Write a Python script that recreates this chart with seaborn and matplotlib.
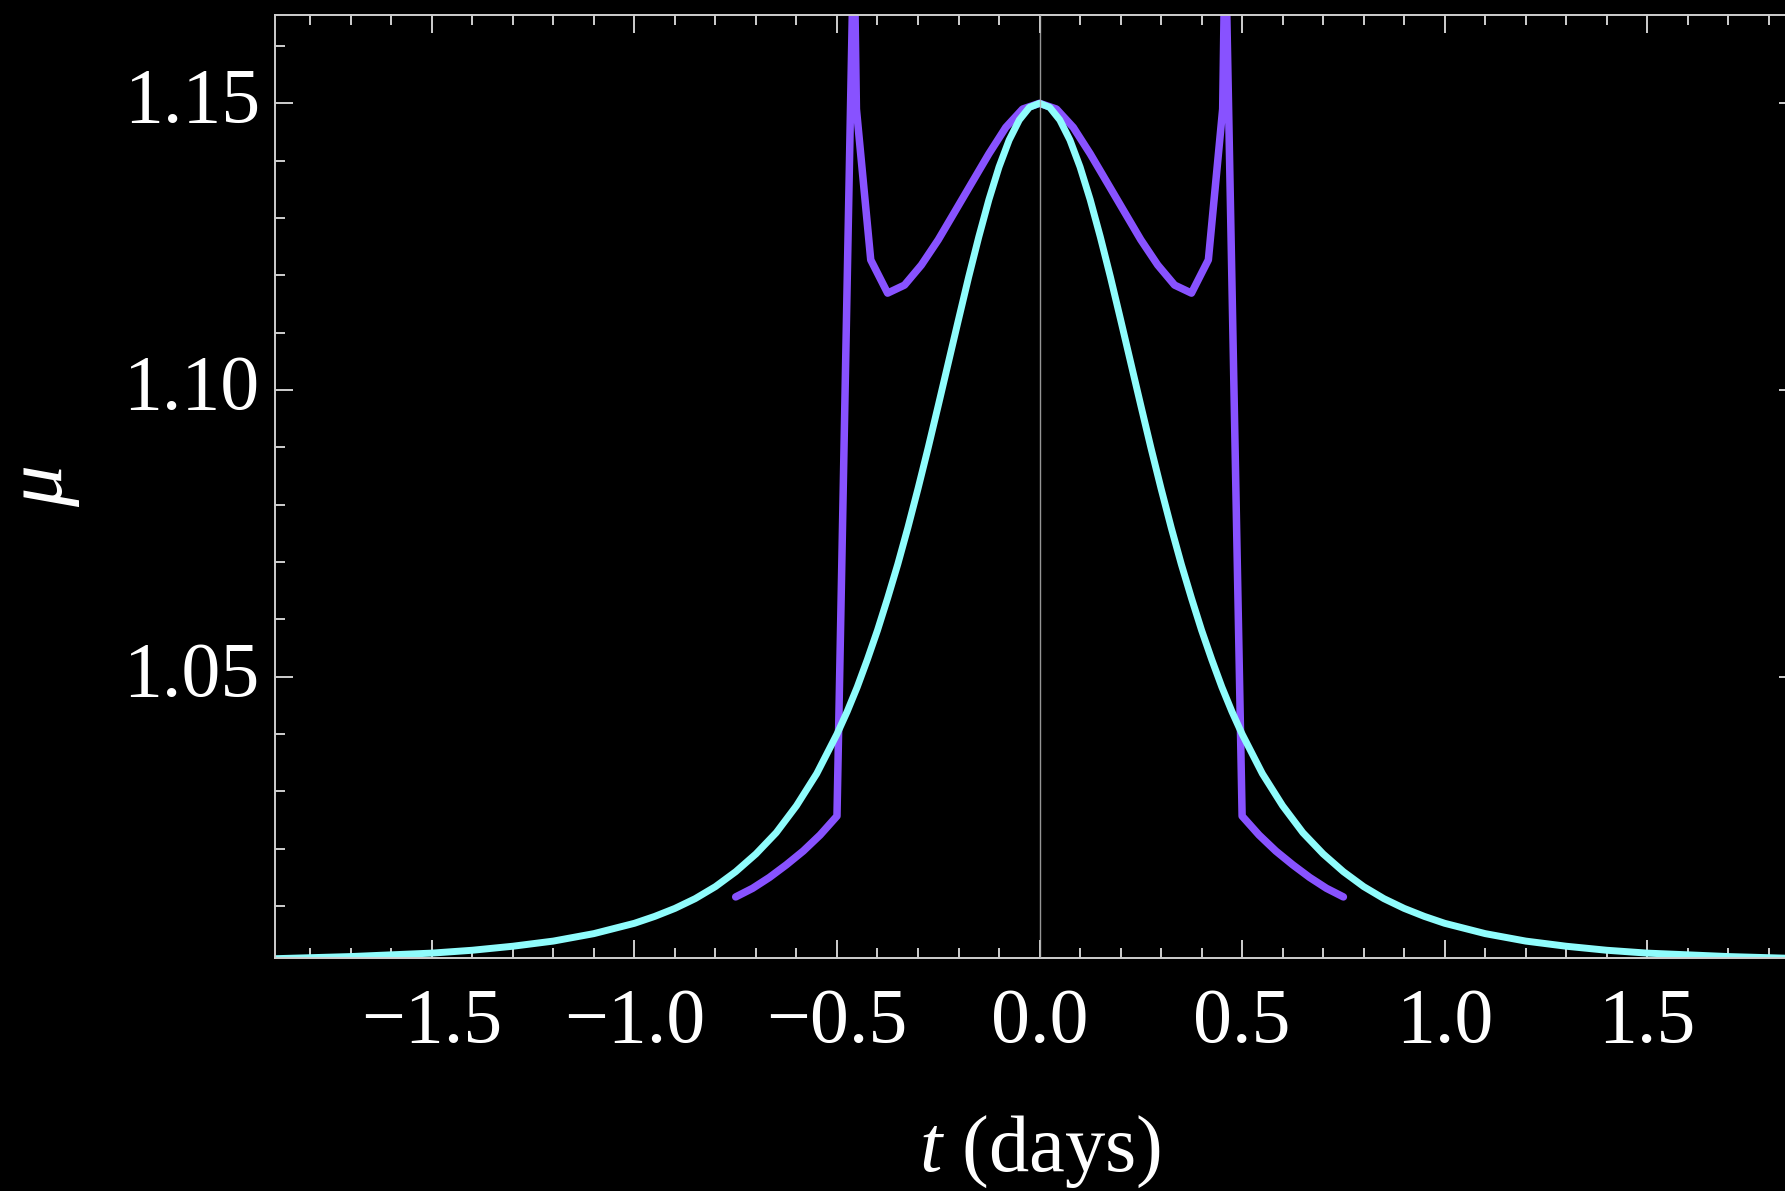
import matplotlib
matplotlib.use("Agg")
import matplotlib.pyplot as plt
import pandas as pd
import seaborn as sns
from matplotlib.ticker import MultipleLocator, FuncFormatter

# smooth curve (cyan)
t_cyan = [-1.9, -1.8, -1.7, -1.6, -1.5, -1.4, -1.3, -1.2, -1.1, -1.0,
          -0.95, -0.9, -0.85, -0.8, -0.75, -0.7, -0.65, -0.6, -0.55, -0.5,
          -0.475, -0.45, -0.425, -0.4, -0.375, -0.35, -0.325, -0.3, -0.275, -0.25,
          -0.225, -0.2, -0.175, -0.15, -0.125, -0.1, -0.075, -0.05, -0.025, 0.0,
          0.025, 0.05, 0.075, 0.1, 0.125, 0.15, 0.175, 0.2, 0.225, 0.25,
          0.275, 0.3, 0.325, 0.35, 0.375, 0.4, 0.425, 0.45, 0.475, 0.5,
          0.55, 0.6, 0.65, 0.7, 0.75, 0.8, 0.85, 0.9, 0.95, 1.0,
          1.1, 1.2, 1.3, 1.4, 1.5, 1.6, 1.7, 1.8, 1.9]
mu_cyan = [1.0008, 1.0010, 1.0012, 1.0015, 1.0018, 1.0023, 1.0030, 1.0039, 1.0052, 1.0070,
           1.0082, 1.0096, 1.0113, 1.0134, 1.0160, 1.0191, 1.0228, 1.0275, 1.0331, 1.0400,
           1.0439, 1.0482, 1.0530, 1.0581, 1.0637, 1.0696, 1.0760, 1.0828, 1.0899, 1.0973,
           1.1048, 1.1123, 1.1197, 1.1267, 1.1332, 1.1389, 1.1436, 1.1471, 1.1493, 1.1500,
           1.1493, 1.1471, 1.1436, 1.1389, 1.1332, 1.1267, 1.1197, 1.1123, 1.1048, 1.0973,
           1.0899, 1.0828, 1.0760, 1.0696, 1.0637, 1.0581, 1.0530, 1.0482, 1.0439, 1.0400,
           1.0331, 1.0275, 1.0228, 1.0191, 1.0160, 1.0134, 1.0113, 1.0096, 1.0082, 1.0070,
           1.0052, 1.0039, 1.0030, 1.0023, 1.0018, 1.0015, 1.0012, 1.0010, 1.0008]

# sampled curve (purple) with the two spikes near t = +-0.46
t_purple = [-0.75, -0.7083, -0.6667, -0.625, -0.5833, -0.5417, -0.5, -0.4583, -0.452,
            -0.4167, -0.375, -0.3333, -0.2917, -0.25, -0.2083, -0.1667, -0.125, -0.0833, -0.0417,
            0.0,
            0.0417, 0.0833, 0.125, 0.1667, 0.2083, 0.25, 0.2917, 0.3333, 0.375, 0.4167,
            0.452, 0.4583, 0.5, 0.5417, 0.5833, 0.625, 0.6667, 0.7083, 0.75]
mu_purple = [1.0116, 1.0131, 1.0150, 1.0172, 1.0196, 1.0224, 1.0257, 1.1800, 1.1490,
             1.1227, 1.1169, 1.1183, 1.1218, 1.1262, 1.1312, 1.1362, 1.1412, 1.1458, 1.1490,
             1.1500,
             1.1490, 1.1458, 1.1412, 1.1362, 1.1312, 1.1262, 1.1218, 1.1183, 1.1169, 1.1227,
             1.1490, 1.1800, 1.0257, 1.0224, 1.0196, 1.0172, 1.0150, 1.0131, 1.0116]

sns.set_theme(style="ticks", rc={
    "figure.facecolor": "black", "axes.facecolor": "black", "savefig.facecolor": "black",
    "axes.edgecolor": "#cfcfcf", "axes.linewidth": 1.4,
    "xtick.color": "#cfcfcf", "ytick.color": "#cfcfcf",
    "xtick.labelcolor": "white", "ytick.labelcolor": "white", "axes.labelcolor": "white",
})
plt.rcParams["font.family"] = ["Liberation Serif", "DejaVu Serif"]
plt.rcParams["mathtext.fontset"] = "custom"
plt.rcParams["mathtext.rm"] = "Liberation Serif"
plt.rcParams["mathtext.it"] = "Liberation Serif:italic"


def minus_fmt(digits):
    def f(v, pos):
        if abs(v) < 1e-9:
            v = 0.0
        return f"{v:.{digits}f}".replace("-", "\u2212")
    return FuncFormatter(f)


fig = plt.figure(figsize=(17.85, 11.91), dpi=100)
ax = fig.add_axes([0.1541, 0.1954, 0.8527, 0.7920])

purple = pd.DataFrame({"t": t_purple, "mu": mu_purple})
cyan = pd.DataFrame({"t": t_cyan, "mu": mu_cyan})
sns.lineplot(data=purple, x="t", y="mu", color="#8852ff", linewidth=5.4,
             estimator=None, sort=False, ax=ax)
sns.lineplot(data=cyan, x="t", y="mu", color="#8ffcfc", linewidth=5.0,
             estimator=None, sort=False, ax=ax)
ax.axvline(0, color="#b0b0b0", linewidth=1.0, alpha=0.85, zorder=5)

ax.set_xlim(-1.887, 1.87)
ax.set_ylim(1.0009, 1.1654)
ax.xaxis.set_major_locator(MultipleLocator(0.5))
ax.xaxis.set_minor_locator(MultipleLocator(0.1))
ax.yaxis.set_major_locator(MultipleLocator(0.05))
ax.yaxis.set_minor_locator(MultipleLocator(0.01))
ax.xaxis.set_major_formatter(minus_fmt(1))
ax.yaxis.set_major_formatter(minus_fmt(2))
ax.tick_params(which="both", direction="in", top=True, right=True, width=1.4)
ax.tick_params(which="major", length=13)
ax.tick_params(which="minor", length=7)
ax.tick_params(axis="x", which="major", labelsize=56, pad=21)
ax.tick_params(axis="y", which="major", labelsize=56, pad=11)
plt.setp(ax.get_yticklabels(), va="center")
for s in ax.spines.values():
    s.set_color("#cfcfcf")

ax.set_xlabel(r"$t$ (days)", fontsize=58)
ax.set_ylabel(r"$\mu$", fontsize=60)
ax.xaxis.set_label_coords(0.5023, -0.165)
ax.yaxis.set_label_coords(-0.127, 0.5)

fig.savefig("out.png", dpi=100, facecolor="black")
